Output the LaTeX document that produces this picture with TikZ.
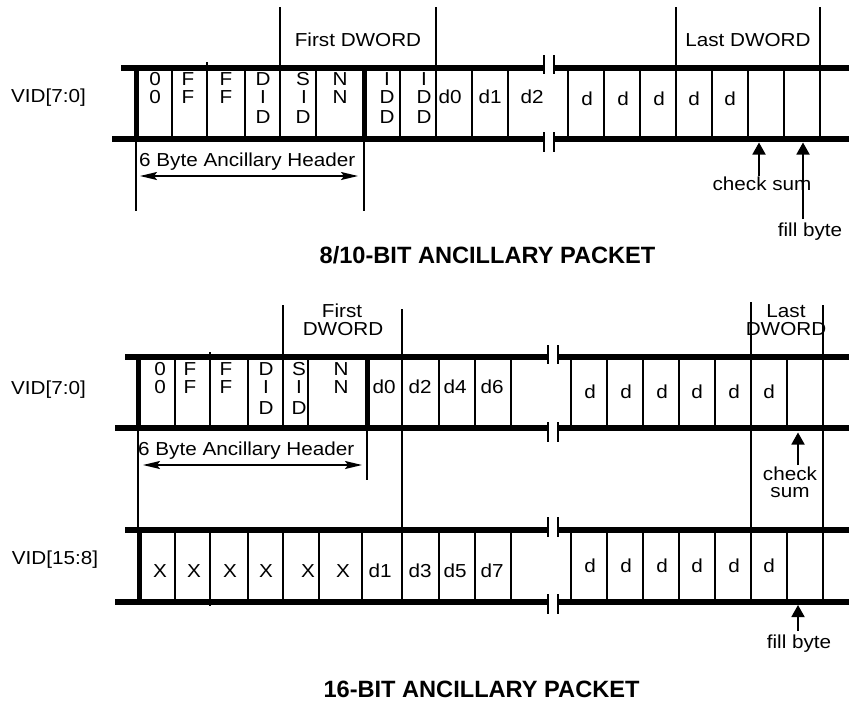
\documentclass[tikz,border=0pt]{standalone}
\usepackage{fontspec}
\setmainfont{Liberation Sans}[FakeStretch=1.1]
\newfontfamily\ttlfont{Liberation Sans}
\usetikzlibrary{arrows.meta}
\begin{document}
\begin{tikzpicture}[x=1pt,y=-1pt,
  bus/.style={line width=5.5pt},
  hv/.style={line width=5pt},
  th/.style={line width=1.4pt},
  brk/.style={line width=1.7pt},
  lb/.style={inner sep=0pt,anchor=base,font=\fontsize{18.8}{19}\selectfont},
  ttl/.style={inner sep=0pt,anchor=base,font=\ttlfont\bfseries\fontsize{23.6}{24}\selectfont},
  harr/.style={line width=1.6pt,{Stealth[length=17pt,width=8pt,inset=3pt]}-{Stealth[length=17pt,width=8pt,inset=3pt]}},
  parr/.style={line width=1.8pt,-{Triangle[length=12pt,width=13pt]}}]
\useasboundingbox (0,0) rectangle (849,702);

%================ 8/10-bit packet =================
\draw[bus] (121,68) -- (545,68);  \draw[bus] (553,68) -- (849,68);
\draw[bus] (112,139) -- (545,139); \draw[bus] (553,139) -- (849,139);
\draw[brk] (544,55) -- (544,74);  \draw[brk] (554,55) -- (554,74);
\draw[brk] (544,132) -- (544,152); \draw[brk] (554,132) -- (554,152);
\draw[hv] (136,68) -- (136,139);
\draw[hv] (364,68) -- (364,139);
\foreach \x in {172,207,245,280,316,400,436,472,508,568,604,640,676,712,748,784,820}
  \draw[th] (\x,68) -- (\x,139);
\draw[th] (280,7) -- (280,68);
\draw[th] (436,7) -- (436,68);
\draw[th] (676,7) -- (676,68);
\draw[th] (820,7) -- (820,68);
\draw[th] (207,62) -- (207,68);
\draw[th] (136,139) -- (136,211);
\draw[th] (364,139) -- (364,211);

\node[lb] (vidA) at (48.5,102) {VID[7:0]};
\node[lb] (fdA) at (358,46) {First DWORD};
\node[lb] (ldA) at (748,46) {Last DWORD};
\foreach \x/\t [count=\i] in {155/0,188/F,226/F,263/D,303/S,340/N,387/I,424/I}
  \node[lb] (ar\i) at (\x,85) {\t};
\foreach \x/\t [count=\i] in {155/0,188/F,226/F,263/I,304/I,340/N,387/D,424/D,450/d0,490/d1,532/d2}
  \node[lb] (br\i) at (\x,103) {\t};
\foreach \x/\t [count=\i] in {263/D,303/D,387/D,424/D}
  \node[lb] (cr\i) at (\x,123) {\t};
\foreach \x [count=\i] in {587,623,659,694,730}
  \node[lb] (dr\i) at (\x,105) {d};

\node[lb,anchor=base west] (hdrA) at (139,166) {6 Byte Ancillary Header};
\coordinate (haA) at (140,176);
\coordinate (hbA) at (358,176);
\draw[harr] (haA) -- (hbA);

\node[lb] (csA) at (762,190) {check sum};
\coordinate (csbA) at (759,176);
\coordinate (cstA) at (759,142.5);
\draw[parr] (csbA) -- (cstA);
\node[lb] (fbA) at (810,236) {fill byte};
\coordinate (fbbA) at (803,219);
\coordinate (fbtA) at (803,142.5);
\draw[parr] (fbbA) -- (fbtA);

\node[ttl] (titleA) at (487.5,263) {8/10-BIT ANCILLARY PACKET};

%================ 16-bit packet =================
% VID[7:0]
\draw[bus] (125,357) -- (549,357); \draw[bus] (557,357) -- (849,357);
\draw[bus] (115,428) -- (549,428); \draw[bus] (557,428) -- (849,428);
\draw[brk] (548,345) -- (548,364); \draw[brk] (558,345) -- (558,364);
\draw[brk] (548,422) -- (548,442); \draw[brk] (558,422) -- (558,442);
\draw[hv] (138,357) -- (138,428);
\draw[hv] (367,357) -- (367,428);
\foreach \x in {175,210,248,283,308,439,475,511,571,607,643,679,715,787}
  \draw[th] (\x,357) -- (\x,428);
\draw[th] (283,305) -- (283,357);
\draw[th] (402,309) -- (402,530);
\draw[th] (751,302) -- (751,530);
\draw[th] (823,305) -- (823,530);
\draw[th] (138,428) -- (138,530);
\draw[th] (367,428) -- (367,480);
\draw[th] (210,352) -- (210,357);

\node[lb] (vidB) at (48.5,394) {VID[7:0]};
\node[lb] (fdB1) at (342,317) {First};
\node[lb] (fdB2) at (343,335) {DWORD};
\node[lb] (ldB1) at (786,317) {Last};
\node[lb] (ldB2) at (786,335) {DWORD};
\foreach \x/\t [count=\i] in {160/0,190/F,226/F,266/D,299/S,341/N}
  \node[lb] (er\i) at (\x,375) {\t};
\foreach \x/\t [count=\i] in {160/0,190/F,226/F,266/I,299/I,341/N,384/d0,420/d2,455/d4,492/d6}
  \node[lb] (fr\i) at (\x,393) {\t};
\foreach \x/\t [count=\i] in {266/D,299/D}
  \node[lb] (gr\i) at (\x,414) {\t};
\foreach \x [count=\i] in {590,626,662,697,734,769}
  \node[lb] (hr\i) at (\x,398) {d};

\node[lb,anchor=base west] (hdrB) at (138,455) {6 Byte Ancillary Header};
\coordinate (haB) at (143,465);
\coordinate (hbB) at (362,465);
\draw[harr] (haB) -- (hbB);

\node[lb] (csB1) at (790,480) {check};
\node[lb] (csB2) at (790,497) {sum};
\coordinate (csbB) at (798,465);
\coordinate (cstB) at (798,432.5);
\draw[parr] (csbB) -- (cstB);

% VID[15:8]
\draw[bus] (125,530) -- (549,530); \draw[bus] (557,530) -- (849,530);
\draw[bus] (115,602) -- (549,602); \draw[bus] (557,602) -- (849,602);
\draw[brk] (548,517) -- (548,537); \draw[brk] (558,517) -- (558,537);
\draw[brk] (548,594) -- (548,614); \draw[brk] (558,594) -- (558,614);
\draw[hv] (139,530) -- (139,602);
\foreach \x in {175,210,248,283,319,362,402,439,475,511,571,607,643,679,715,751,787,823}
  \draw[th] (\x,530) -- (\x,602);
\draw[th] (210,602) -- (210,606);

\node[lb] (vidC) at (55,564) {VID[15:8]};
\foreach \x/\t [count=\i] in {160/X,194/X,230/X,266/X,308/X,343/X,380/d1,420/d3,455/d5,492/d7}
  \node[lb] (ir\i) at (\x,577) {\t};
\foreach \x [count=\i] in {590,626,662,697,734,769}
  \node[lb] (jr\i) at (\x,572) {d};

\node[lb] (fbC) at (799,648) {fill byte};
\coordinate (fbbC) at (798,631);
\coordinate (fbtC) at (798,605);
\draw[parr] (fbbC) -- (fbtC);

\node[ttl] (titleB) at (481.5,697) {16-BIT ANCILLARY PACKET};
\end{tikzpicture}
\end{document}
